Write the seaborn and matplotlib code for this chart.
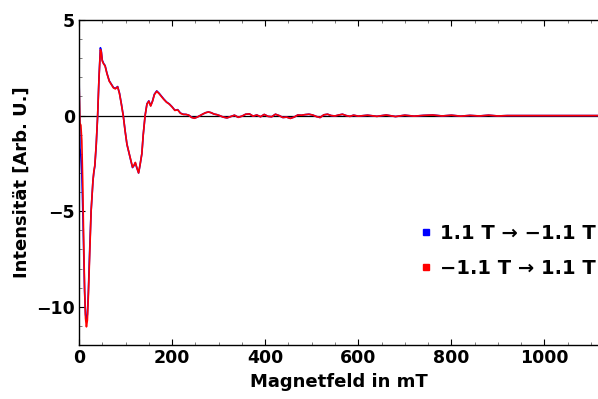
import numpy as np
import pandas as pd
import matplotlib
matplotlib.use("Agg")
import matplotlib.pyplot as plt
from matplotlib.lines import Line2D
from matplotlib.ticker import MultipleLocator
import seaborn as sns

# Magnetic field sweep (mT)
field = [0, 2, 4, 6, 8, 10, 12, 14, 16, 18, 20, 23, 26, 28, 30, 32, 34, 37, 40, 43,
         46, 48, 50, 53, 56, 60, 65, 70, 74, 78, 83, 87, 91, 95, 99, 103, 107, 111, 115, 118,
         121, 124, 128, 131, 135, 138, 142, 146, 150, 154, 158, 162, 167, 172, 177, 182, 188, 194, 200, 206,
         212, 218, 224, 230, 236, 242, 248, 254, 260, 266, 272, 278, 284, 290, 296, 302, 310, 318, 326, 334,
         342, 350, 358, 366, 374, 382, 390, 398, 406, 414, 422, 430, 438, 446, 454, 462, 470, 478, 486, 494,
         502, 510, 518, 526, 534, 542, 550, 558, 566, 574, 582, 590, 600, 620, 640, 660, 680, 700, 720, 740,
         760, 780, 800, 820, 840, 860, 880, 900, 920, 950, 1000, 1050, 1100, 1115]

# Intensity, sweep from +1.1 T to -1.1 T
down = [2.4, -1.7, -2.1, -3.0, -4.8, -7.0, -9.2, -10.4, -10.7, -10.4, -9.3, -7.0, -5.0, -4.2, -3.4, -2.95, -2.65, -1.55, -0.05, 2.0,
        3.55, 3.35, 2.9, 2.72, 2.62, 2.22, 1.82, 1.62, 1.47, 1.42, 1.52, 1.17, 0.62, 0.02, -0.78, -1.5, -1.92, -2.32, -2.72, -2.62,
        -2.47, -2.72, -3.0, -2.6, -2.0, -1.0, 0.0, 0.62, 0.77, 0.52, 0.77, 1.12, 1.29, 1.17, 1.02, 0.87, 0.71, 0.61, 0.46, 0.28,
        0.31, 0.13, 0.07, 0.06, 0.02, -0.09, -0.13, -0.08, 0.0, 0.08, 0.15, 0.19, 0.15, 0.08, 0.05, 0.0, -0.08, -0.12, -0.05, 0.02,
        -0.09, -0.03, 0.07, 0.09, -0.03, 0.03, -0.06, 0.06, -0.04, -0.06, 0.07, 0.0, -0.1, -0.08, -0.14, -0.08, 0.03, 0.02, 0.05, 0.07,
        0.03, -0.05, -0.1, 0.04, 0.07, 0.0, -0.02, 0.03, 0.07, 0.0, -0.04, 0.02, -0.03, 0.02, -0.04, 0.03, -0.05, 0.02, -0.03, 0.01,
        0.03, -0.02, 0.02, -0.03, 0.01, -0.02, 0.02, -0.02, 0.0, 0.0, 0.0, 0.0, 0.0, 0.0]

# Intensity, sweep from -1.1 T to +1.1 T
up = [1.9, -0.4, -0.5, -1.3, -3.5, -6.5, -9.0, -10.6, -11.05, -10.7, -9.5, -7.2, -5.0, -4.2, -3.4, -2.9, -2.6, -1.5, 0.0, 2.0,
      3.45, 3.3, 2.85, 2.7, 2.6, 2.2, 1.8, 1.6, 1.45, 1.4, 1.5, 1.15, 0.6, 0.0, -0.8, -1.5, -1.9, -2.3, -2.7, -2.6,
      -2.45, -2.7, -3.0, -2.6, -2.0, -1.0, 0.0, 0.6, 0.75, 0.5, 0.75, 1.1, 1.27, 1.15, 1.0, 0.85, 0.7, 0.6, 0.45, 0.27,
      0.3, 0.12, 0.06, 0.06, 0.02, -0.1, -0.14, -0.08, 0.0, 0.08, 0.15, 0.19, 0.15, 0.08, 0.05, 0.0, -0.08, -0.12, -0.05, 0.02,
      -0.09, -0.03, 0.07, 0.09, -0.03, 0.03, -0.06, 0.06, -0.04, -0.06, 0.07, 0.0, -0.1, -0.08, -0.15, -0.08, 0.03, 0.02, 0.05, 0.07,
      0.03, -0.05, -0.1, 0.04, 0.07, 0.0, -0.02, 0.03, 0.07, 0.0, -0.04, 0.02, -0.03, 0.02, -0.04, 0.03, -0.05, 0.02, -0.03, 0.01,
      0.03, -0.02, 0.02, -0.03, 0.01, -0.02, 0.02, -0.02, 0.0, 0.0, 0.0, 0.0, 0.0, 0.0]

labels = ["1.1 T \u2192 \u22121.1 T", "\u22121.1 T \u2192 1.1 T"]
colors = ["#0000ff", "#ff0000"]

df = pd.concat([
    pd.DataFrame({"B": field, "I": down, "sweep": labels[0]}),
    pd.DataFrame({"B": field, "I": up, "sweep": labels[1]}),
])

sns.set_style("ticks")
plt.rcParams["font.family"] = ["DejaVu Sans"]
plt.rcParams["font.weight"] = "bold"
for key in ["text.color", "axes.labelcolor", "xtick.color", "ytick.color", "axes.edgecolor"]:
    plt.rcParams[key] = "black"

fig = plt.figure(figsize=(5.98, 3.99), dpi=100)
ax = fig.add_axes([79 / 598, 54 / 399, 1 - 79 / 598, 325 / 399])

sns.lineplot(data=df, x="B", y="I", hue="sweep", palette=dict(zip(labels, colors)),
             linewidth=1.2, ax=ax, legend=False, sort=False)
ax.axhline(0, color="black", linewidth=0.9, zorder=0)

ax.set_xlim(0, 1115)
ax.set_ylim(-12, 5)
ax.xaxis.set_major_locator(MultipleLocator(200))
ax.xaxis.set_minor_locator(MultipleLocator(50))
ax.yaxis.set_major_locator(MultipleLocator(5))
ax.yaxis.set_minor_locator(MultipleLocator(1))
ax.tick_params(which="both", direction="in", top=True, right=False, labelsize=12.5, pad=3,
               labelcolor="black")
ax.tick_params(which="major", length=4, width=0.8, color="black")
ax.tick_params(which="minor", length=2, width=0.6, color="#666666")
for lab in ax.get_xticklabels() + ax.get_yticklabels():
    lab.set_fontweight("bold")
ax.spines["right"].set_visible(False)
for s in ["left", "bottom", "top"]:
    ax.spines[s].set_linewidth(1.0)
    ax.spines[s].set_color("black")

ax.set_xlabel("Magnetfeld in mT", fontsize=13, fontweight="bold", labelpad=4)
ax.set_ylabel("Intensit\u00e4t [Arb. U.]", fontsize=13, fontweight="bold", labelpad=4)

handles = [Line2D([], [], linestyle="none", marker="s", markersize=4.5,
                  markerfacecolor=c, markeredgecolor=c) for c in colors]
leg = ax.legend(handles, labels, loc="center left", bbox_to_anchor=(403 / 598, (399 - 251) / 399),
                bbox_transform=fig.transFigure, frameon=False, handlelength=0.55,
                handletextpad=0.45, labelspacing=0.8,
                prop={"size": 14, "weight": "bold"})

fig.savefig("out.png", dpi=100)
